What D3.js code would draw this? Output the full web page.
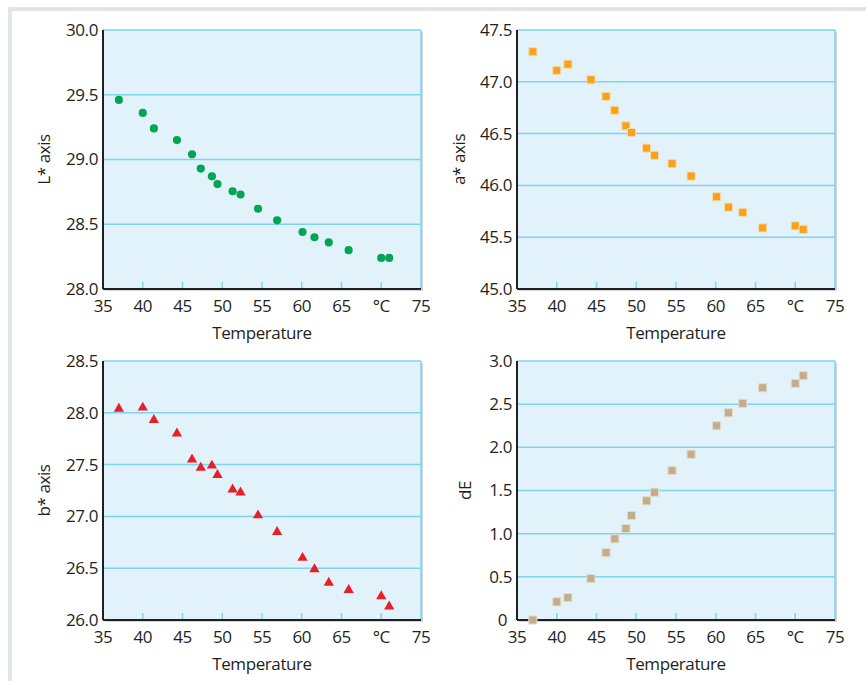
<!DOCTYPE html>
<html>
<head>
<meta charset="utf-8">
<script src="https://cdn.jsdelivr.net/npm/d3@7"></script>
<style>
  body { margin: 0; background: #fff; }
  text { font-family: "Open Sans", "Noto Sans", sans-serif; fill: #231f20; font-size: 17px; letter-spacing: -0.4px; }
</style>
</head>
<body>
<div id="chart"></div>
<script>
const width = 866
const height = 681

// data
const temperature = [37, 40, 41.4, 44.3, 46.2, 47.3, 48.7, 49.4, 51.3, 52.3, 54.5, 56.9, 60.1, 61.6, 63.4, 65.9, 70, 71]
const lValues = [29.46, 29.36, 29.24, 29.15, 29.04, 28.93, 28.87, 28.81, 28.755, 28.73, 28.62, 28.53, 28.44, 28.40, 28.36, 28.30, 28.24, 28.24]
const aValues = [47.29, 47.11, 47.17, 47.02, 46.86, 46.725, 46.575, 46.51, 46.36, 46.29, 46.21, 46.09, 45.89, 45.79, 45.74, 45.59, 45.61, 45.575]
const bValues = [28.04, 28.05, 27.93, 27.80, 27.55, 27.47, 27.49, 27.40, 27.26, 27.23, 27.01, 26.85, 26.60, 26.49, 26.36, 26.29, 26.23, 26.13]
const dEValues = [0.0, 0.21, 0.26, 0.48, 0.78, 0.94, 1.06, 1.21, 1.38, 1.48, 1.73, 1.92, 2.25, 2.40, 2.51, 2.69, 2.74, 2.83]

const xTicks = [35, 40, 45, 50, 55, 60, 65, 70, 75]
const xTickLabels = ["35", "40", "45", "50", "55", "60", "65", "°C", "75"]
const lTicks = [28.0, 28.5, 29.0, 29.5, 30.0]
const aTicks = [45.0, 45.5, 46.0, 46.5, 47.0, 47.5]
const bTicks = [26.0, 26.5, 27.0, 27.5, 28.0, 28.5]
const dETicks = [0, 0.5, 1.0, 1.5, 2.0, 2.5, 3.0]

const plotW = 318
const plotH = 259
const gridColor = "#7fd3f1"

const svg = d3.select("div#chart").append("svg").attr("width", width).attr("height", height)

// light frame round the figure
svg.append("rect").attr("x", 8).attr("y", 7).attr("width", width - 8).attr("height", 4).attr("fill", "#dfe5e9")
svg.append("rect").attr("x", 8).attr("y", 7).attr("width", 4).attr("height", height - 7).attr("fill", "#dfe5e9")

const panels = [
    {left: 103, top: 30, values: lValues, ticks: lTicks, label: "L* axis", labelOff: 59,
     symbol: d3.symbolCircle, size: 52, fill: "#00a651", stroke: "none", fmt: d => d.toFixed(1)},
    {left: 517, top: 30, values: aValues, ticks: aTicks, label: "a* axis", labelOff: 58,
     symbol: d3.symbolSquare, size: 66, fill: "#f7a21e", stroke: "#f6dcae", fmt: d => d.toFixed(1)},
    {left: 103, top: 361, values: bValues, ticks: bTicks, label: "b* axis", labelOff: 59,
     symbol: d3.symbolTriangle, size: 46, fill: "#e81f2a", stroke: "none", fmt: d => d.toFixed(1)},
    {left: 517, top: 361, values: dEValues, ticks: dETicks, label: "dE", labelOff: 52,
     symbol: d3.symbolSquare, size: 66, fill: "#c4ad8c", stroke: "#e6dccd", fmt: d => d === 0 ? "0" : d.toFixed(1)}
]

panels.forEach(p => {
    const g = svg.append("g").attr("transform", `translate(${p.left}, ${p.top})`)

    const x = d3.scaleLinear().domain([35, 75]).range([0, plotW])
    const y = d3.scaleLinear().domain(d3.extent(p.ticks)).range([plotH, 0])

    // shadow + background
    g.append("rect").attr("x", 2).attr("y", 2).attr("width", plotW).attr("height", plotH)
        .attr("fill", "#9aa3a8").attr("opacity", 0.45)
    g.append("rect").attr("width", plotW).attr("height", plotH).attr("fill", "#e1f2fa")

    // horizontal grid
    g.selectAll("line.grid").data(p.ticks.slice(1)).enter()
        .append("line").attr("class", "grid")
        .attr("x1", 0).attr("x2", plotW)
        .attr("y1", d => y(d)).attr("y2", d => y(d))
        .attr("stroke", gridColor).attr("stroke-width", 1.5)

    // right border
    g.append("line").attr("x1", plotW).attr("x2", plotW).attr("y1", 0).attr("y2", plotH)
        .attr("stroke", gridColor).attr("stroke-width", 1.5)

    // x ticks inside the plot
    g.selectAll("line.xtick").data(xTicks.slice(1, -1)).enter()
        .append("line").attr("class", "xtick")
        .attr("x1", d => x(d)).attr("x2", d => x(d))
        .attr("y1", plotH).attr("y2", plotH - 7)
        .attr("stroke", gridColor).attr("stroke-width", 1.5)

    // axes lines
    g.append("line").attr("x1", 0).attr("x2", 0).attr("y1", 0).attr("y2", plotH)
        .attr("stroke", "#231f20").attr("stroke-width", 2)
    g.append("line").attr("x1", 0).attr("x2", plotW).attr("y1", plotH).attr("y2", plotH)
        .attr("stroke", "#231f20").attr("stroke-width", 2)

    // tick labels (the lone "0" is nudged left so it clears the "35")
    g.selectAll("text.ylab").data(p.ticks).enter()
        .append("text").attr("class", "ylab")
        .attr("x", d => p.fmt(d) === "0" ? -10 : -5).attr("y", d => y(d)).attr("dy", "0.35em")
        .attr("text-anchor", "end")
        .text(p.fmt)

    g.selectAll("text.xlab").data(xTicks).enter()
        .append("text").attr("class", "xlab")
        .attr("x", d => x(d)).attr("y", plotH + 17).attr("dy", "0.35em")
        .attr("text-anchor", "middle")
        .text((d, i) => xTickLabels[i])

    // axis titles
    g.append("text").attr("x", plotW / 2).attr("y", plotH + 44).attr("dy", "0.35em")
        .attr("text-anchor", "middle")
        .text("Temperature")
    g.append("text")
        .attr("transform", `translate(${-p.labelOff}, ${plotH / 2}) rotate(-90)`)
        .attr("dy", "0.35em").attr("text-anchor", "middle")
        .text(p.label)

    // points
    g.selectAll("path.pt").data(temperature).enter()
        .append("path").attr("class", "pt")
        .attr("transform", (d, i) => `translate(${x(d)}, ${y(p.values[i])})`)
        .attr("d", d3.symbol().type(p.symbol).size(p.size))
        .attr("fill", p.fill)
        .attr("stroke", p.stroke).attr("stroke-width", 1)
})
</script>
</body>
</html>
